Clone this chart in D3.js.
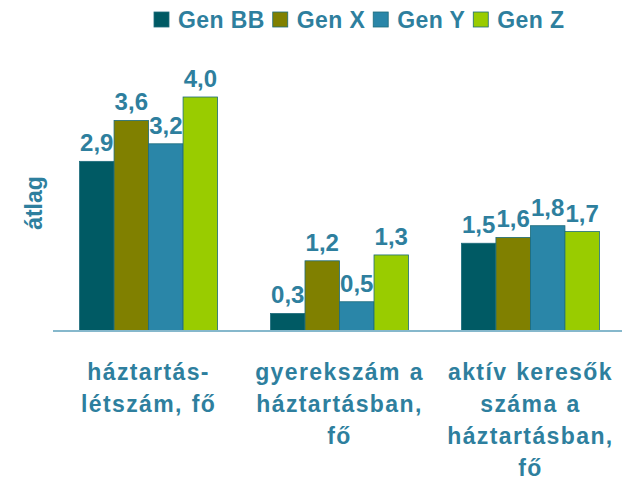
<!DOCTYPE html>
<html>
<head>
<meta charset="utf-8">
<script src="https://cdn.jsdelivr.net/npm/d3@7"></script>
<style>
body { margin: 0; background: #fff; }
text { font-family: "Liberation Sans", Arial, sans-serif; font-weight: bold; fill: #2e7f9e; }
</style>
</head>
<body>
<div class="container"></div>
<script>
var categories = [
	["háztartás-", "létszám, fő"],
	["gyerekszám a", "háztartásban,", "fő"],
	["aktív keresők", "száma a", "háztartásban,", "fő"]
];
var seriesNames = ["Gen BB", "Gen X", "Gen Y", "Gen Z"];
var seriesColors = ["#005a64", "#808000", "#2a86a8", "#99cc00"];
var genBB = [2.9, 0.3, 1.5];
var genX = [3.6, 1.2, 1.6];
var genY = [3.2, 0.5, 1.8];
var genZ = [4.0, 1.3, 1.7];
var yLabel = "átlag";

const WIDTH = 622;
const HEIGHT = 484;
const BASE = 331;

var svg = d3.select('.container').append('svg')
	.attr('width', WIDTH)
	.attr('height', HEIGHT);

var series = [genBB, genX, genY, genZ];
var catIdx = categories.map(function(d, i){ return i; });

var xScale = d3.scaleBand()
	.domain(catIdx)
	.range([53, 626])
	.paddingInner(0.277)
	.paddingOuter(0.139);

var xSub = d3.scaleBand()
	.domain(seriesNames)
	.range([0, xScale.bandwidth()]);

var yScale = d3.scaleLinear()
	.domain([0, 4.5])
	.range([BASE, BASE - 4.5 * 58.5]);

// bars
series.forEach(function(vals, s){
	var g = svg.append('g');
	g.selectAll('rect').data(vals)
		.enter().append('rect')
		.attr('x', function(d, i){ return xScale(i) + xSub(seriesNames[s]); })
		.attr('y', function(d){ return yScale(d); })
		.attr('width', xSub.bandwidth())
		.attr('height', function(d){ return BASE - yScale(d); })
		.attr('fill', seriesColors[s])
		.attr('stroke', '#1d6c7c')
		.attr('stroke-width', 0.8);

	g.selectAll('text').data(vals)
		.enter().append('text')
		.attr('x', function(d, i){ return xScale(i) + xSub(seriesNames[s]) + xSub.bandwidth() / 2; })
		.attr('y', function(d){ return yScale(d) - 10; })
		.attr('text-anchor', 'middle')
		.style('font-size', '24px')
		.text(function(d){ return d.toFixed(1).replace('.', ','); });
});

// axis line
svg.append('line')
	.attr('x1', 53).attr('x2', WIDTH)
	.attr('y1', BASE).attr('y2', BASE)
	.attr('stroke', '#86b8cc')
	.attr('stroke-width', 2);

// category labels
categories.forEach(function(lines, i){
	var t = svg.append('text')
		.attr('text-anchor', 'middle')
		.style('font-size', '23px')
		.style('letter-spacing', '1.4px')
		.style('word-spacing', '1px');
	lines.forEach(function(l, k){
		t.append('tspan')
			.attr('x', xScale(i) + xScale.bandwidth() / 2)
			.attr('y', 380 + k * 32)
			.text(l);
	});
});

// y label
svg.append('text')
	.attr('transform', 'translate(42,203) rotate(-90)')
	.attr('text-anchor', 'middle')
	.style('font-size', '23px')
	.text(yLabel);

// legend
var lx = 154;
seriesNames.forEach(function(name, s){
	svg.append('rect')
		.attr('x', lx).attr('y', 12)
		.attr('width', 15).attr('height', 15)
		.attr('fill', seriesColors[s])
		.attr('stroke', '#1d6c7c')
		.attr('stroke-width', 0.8);
	var t = svg.append('text')
		.attr('x', lx + 24).attr('y', 28)
		.style('font-size', '23px')
		.style('letter-spacing', '0.4px')
		.text(name);
	lx += 24 + t.node().getComputedTextLength() + 8;
});
</script>
</body>
</html>
